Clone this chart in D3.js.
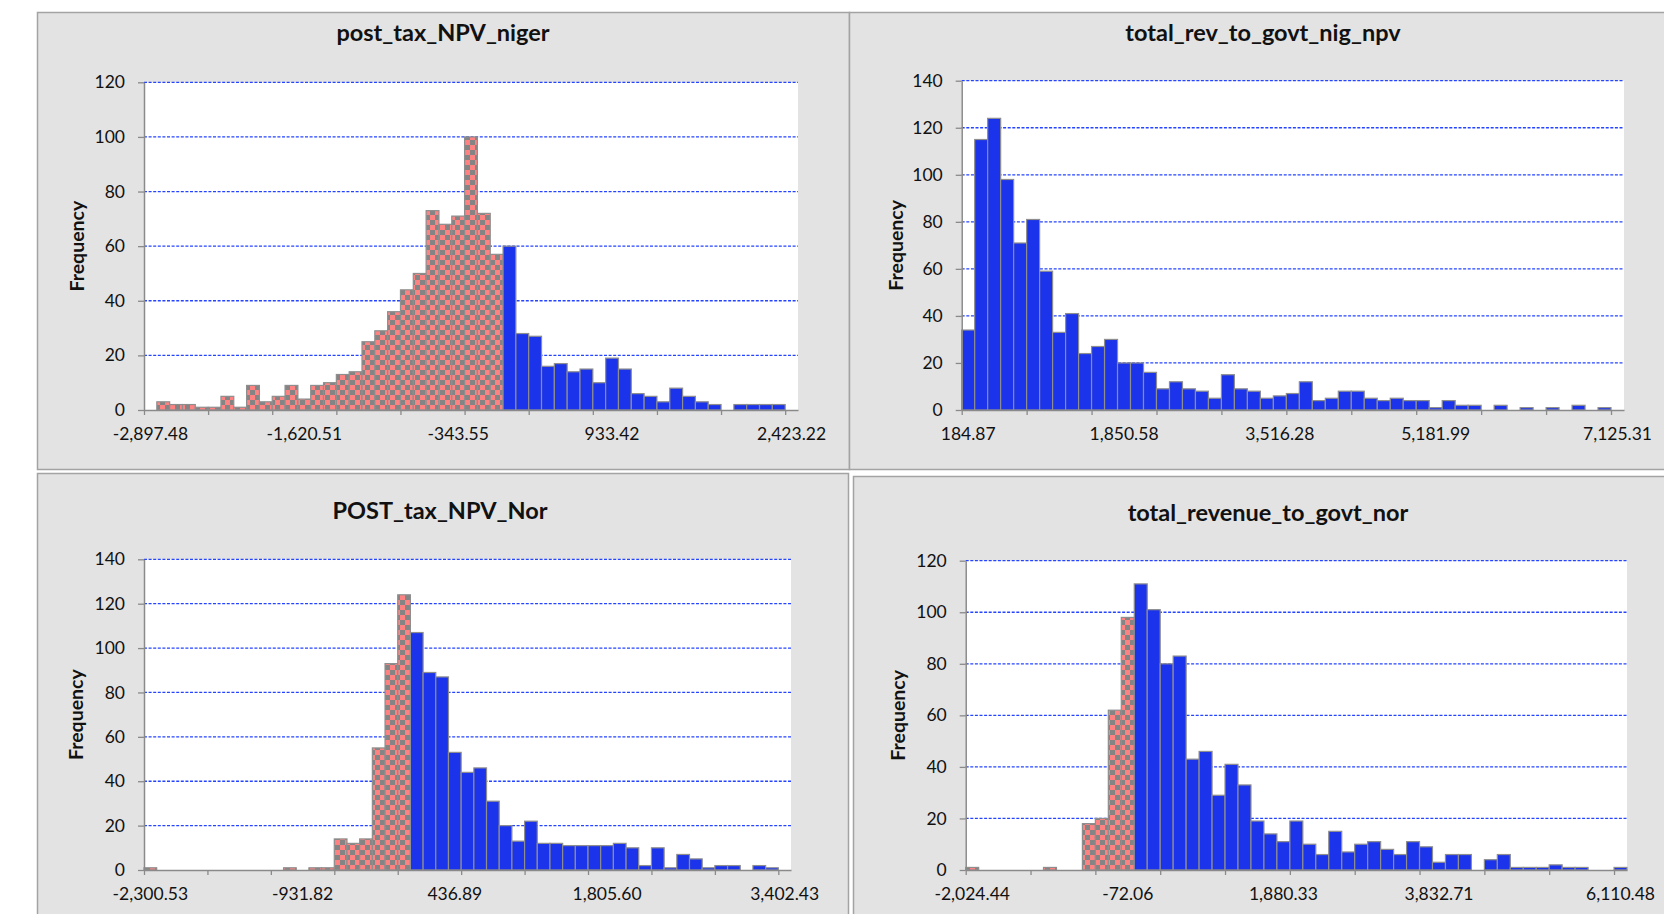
<!DOCTYPE html>
<html><head><meta charset="utf-8">
<script src="https://cdn.jsdelivr.net/npm/d3@7"></script>
<style>
body{margin:0;background:#fff}
svg{display:block}
text{font-family:Lato,"Open Sans",sans-serif;fill:#111}
</style>
</head><body>
<svg id="chart" width="1664" height="914"></svg>
<script>
// ---------------- DATA ----------------
const titles = ["post_tax_NPV_niger", "total_rev_to_govt_nig_npv", "POST_tax_NPV_Nor", "total_revenue_to_govt_nor"];

const countsA = [0,3,2,2,1,1,5,1,9,3,5,9,4,9,10,13,14,25,29,36,44,50,73,68,71,100,72,57,60,28,27,16,17,14,15,10,19,15,6,5,3,8,5,3,2,0,2,2,2,2,0];
const countsB = [34,115,124,98,71,81,59,33,41,24,27,30,20,20,16,9,12,9,8,5,15,9,8,5,6,7,12,4,5,8,8,5,4,5,4,4,1,4,2,2,0,2,0,1,0,1,0,2,0,1,0];
const countsC = [1,0,0,0,0,0,0,0,0,0,0,1,0,1,1,14,12,14,55,93,124,107,89,87,53,44,46,31,20,13,22,12,12,11,11,11,11,12,10,2,10,1,7,5,1,2,2,0,2,1,0];
const countsD = [1,0,0,0,0,0,1,0,0,18,20,62,98,111,101,80,83,43,46,29,41,33,19,14,11,19,10,6,15,7,10,11,8,6,11,9,3,6,6,0,4,6,1,1,1,2,1,1,0,0,1];

const xLabelsA = ["-2,897.48", "-1,620.51", "-343.55", "933.42", "2,423.22"];
const xLabelsB = ["184.87", "1,850.58", "3,516.28", "5,181.99", "7,125.31"];
const xLabelsC = ["-2,300.53", "-931.82", "436.89", "1,805.60", "3,402.43"];
const xLabelsD = ["-2,024.44", "-72.06", "1,880.33", "3,832.71", "6,110.48"];
const xLabelBins = [0, 12, 24, 36, 50];   // category index of each x label
const xTickBins = [0, 5, 10, 15, 20, 25, 30, 35, 40, 45, 50];

const yTicksA = [0, 20, 40, 60, 80, 100, 120];
const yTicksB = [0, 20, 40, 60, 80, 100, 120, 140];
const yTicksC = [0, 20, 40, 60, 80, 100, 120, 140];
const yTicksD = [0, 20, 40, 60, 80, 100, 120];

const yAxisTitle = "Frequency";

// ---------------- LAYOUT (style only) ----------------
const layout = [
  {panel:[37, 12, 812, 457],  plot:[144, 798, 82.3, 410],  titleX:443,  titleY:40,  ylabX:76},
  {panel:[849, 12, 830, 457], plot:[961.7, 1624, 80.7, 410], titleX:1263, titleY:40,  ylabX:895},
  {panel:[37, 473, 811, 460], plot:[144, 791, 559.3, 870], titleX:440,  titleY:518, ylabX:75},
  {panel:[853, 476, 830, 460],plot:[965.7, 1627, 560.7, 870], titleX:1268, titleY:520, ylabX:897}
];

const charts = [
  {title:titles[0], counts:countsA, xLabels:xLabelsA, yTicks:yTicksA},
  {title:titles[1], counts:countsB, xLabels:xLabelsB, yTicks:yTicksB},
  {title:titles[2], counts:countsC, xLabels:xLabelsC, yTicks:yTicksC},
  {title:titles[3], counts:countsD, xLabels:xLabelsD, yTicks:yTicksD}
];

const BLUE = "#1b33ea", PINK = "#ff8282", CHECK_GRAY = "#848484", EDGE = "#8e8e8e";
const AXIS = "#8a8a8a", GRID = "#2544ff", PANEL = "#e3e3e3", PANEL_EDGE = "#a3a3a3";

const svg = d3.select("#chart");
const defs = svg.append("defs");
const pat = defs.append("pattern").attr("id", "checker")
  .attr("patternUnits", "userSpaceOnUse").attr("width", 10).attr("height", 10);
pat.append("rect").attr("width", 10).attr("height", 10).attr("fill", PINK);
pat.append("rect").attr("width", 5).attr("height", 5).attr("fill", CHECK_GRAY);
pat.append("rect").attr("x", 5).attr("y", 5).attr("width", 5).attr("height", 5).attr("fill", CHECK_GRAY);

const parseNum = s => +s.replace(/,/g, "");

charts.forEach((ch, k) => {
  const L = layout[k];
  const [x0, x1, yTop, yBot] = L.plot;
  const g = svg.append("g");

  g.append("rect").attr("x", L.panel[0] + 0.5).attr("y", L.panel[1] + 0.5)
    .attr("width", L.panel[2]).attr("height", L.panel[3])
    .attr("fill", PANEL).attr("stroke", PANEL_EDGE).attr("stroke-width", 1.5);

  const n = ch.counts.length;
  const x = d3.scaleBand().domain(d3.range(n)).range([x0, x1]).padding(0);
  const xb = d3.scaleLinear().domain([0, n]).range([x0, x1]);
  const ymax = d3.max(ch.yTicks);
  const y = d3.scaleLinear().domain([0, ymax]).range([yBot, yTop]);

  // plot area
  g.append("rect").attr("x", x0).attr("y", yTop).attr("width", x1 - x0).attr("height", yBot - yTop).attr("fill", "#fff");

  // gridlines
  g.append("g").selectAll("line").data(ch.yTicks.filter(v => v > 0)).join("line")
    .attr("x1", x0).attr("x2", x1).attr("y1", d => y(d)).attr("y2", d => y(d))
    .attr("stroke", GRID).attr("stroke-width", 1.3).attr("stroke-dasharray", "3,1.6");

  // bin lower edges from labels -> shading of negative bins
  const first = parseNum(ch.xLabels[0]);
  const step = (parseNum(ch.xLabels[1]) - first) / (xLabelBins[1] - xLabelBins[0]);

  g.append("g").selectAll("rect").data(ch.counts.map((c, i) => ({c, i}))).join("rect")
    .filter(d => d.c > 0)
    .attr("x", d => x(d.i)).attr("width", x.bandwidth())
    .attr("y", d => y(d.c)).attr("height", d => y(0) - y(d.c))
    .attr("fill", d => (first + d.i * step) < 0 ? "url(#checker)" : BLUE)
    .attr("stroke", EDGE).attr("stroke-width", 1.2);

  // y axis
  const ya = g.append("g").attr("transform", `translate(${x0},0)`)
    .call(d3.axisLeft(y).tickValues(ch.yTicks).tickSize(6).tickSizeOuter(0).tickPadding(13).tickFormat(d3.format("d")));
  ya.select(".domain").attr("stroke", AXIS).attr("stroke-width", 1.5);
  ya.selectAll(".tick line").attr("stroke", AXIS).attr("stroke-width", 1.3);
  ya.selectAll("text").style("font-size", "17.5px").style("font-family", "Lato").attr("fill", "#111");

  // x axis ticks (category boundaries)
  const xt = g.append("g").attr("transform", `translate(0,${yBot})`)
    .call(d3.axisBottom(xb).tickValues(xTickBins).tickSize(5).tickSizeOuter(0).tickFormat(""));
  xt.select(".domain").attr("stroke", AXIS).attr("stroke-width", 1.5);
  xt.selectAll(".tick line").attr("stroke", AXIS).attr("stroke-width", 1.3);

  // x labels (category centers)
  const xl = g.append("g").attr("transform", `translate(0,${yBot})`)
    .call(d3.axisBottom(x).tickValues(xLabelBins).tickSize(0).tickPadding(18)
      .tickFormat((d, i) => ch.xLabels[i]));
  xl.select(".domain").remove();
  xl.selectAll("text").style("font-size", "17.5px").style("font-family", "Lato").attr("fill", "#111");

  // title
  g.append("text").attr("x", L.titleX).attr("y", L.titleY + 1).attr("text-anchor", "middle")
    .style("font-size", "23.5px").style("font-weight", "bold").text(ch.title);

  // y axis title
  g.append("text").attr("transform", `translate(${L.ylabX},${(yTop + yBot) / 2}) rotate(-90)`)
    .attr("text-anchor", "middle").attr("dominant-baseline", "central")
    .style("font-size", "19.5px").style("font-weight", "bold").text(yAxisTitle);
});
</script>
</body></html>
